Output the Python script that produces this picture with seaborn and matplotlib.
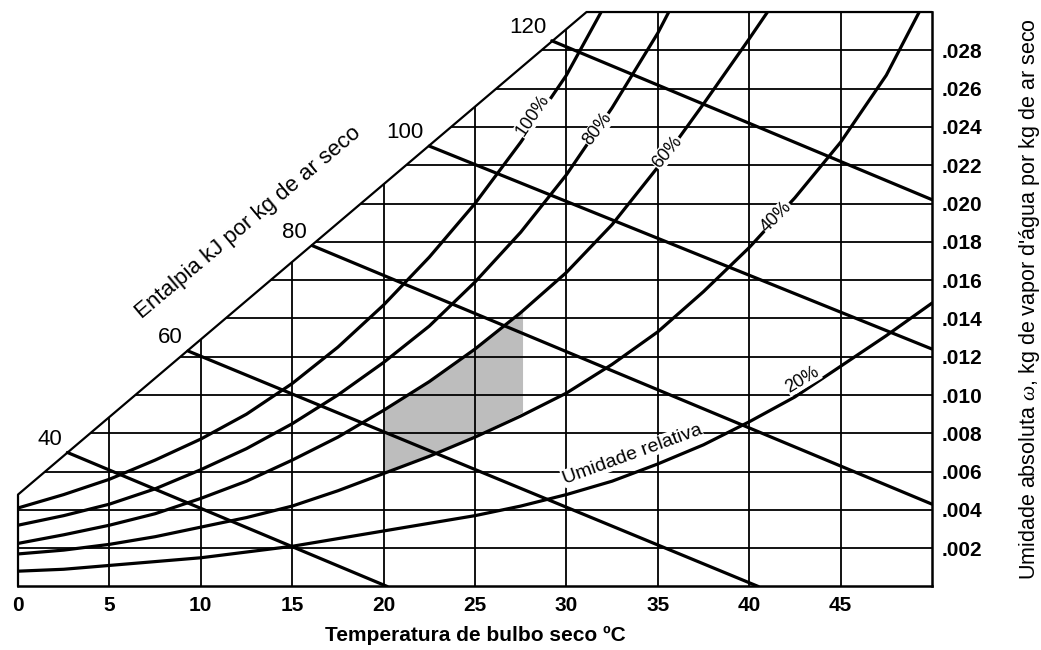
import numpy as np
import pandas as pd
import matplotlib
matplotlib.use("Agg")
import matplotlib.pyplot as plt
from matplotlib.patches import Polygon
import seaborn as sns

# --- dados lidos da carta psicrométrica ---
# grade
GRID_T = [5, 10, 15, 20, 25, 30, 35, 40, 45]
GRID_W = [0.002, 0.004, 0.006, 0.008, 0.010, 0.012, 0.014, 0.016,
          0.018, 0.020, 0.022, 0.024, 0.026, 0.028]
X_TICKS = [0, 5, 10, 15, 20, 25, 30, 35, 40, 45]
Y_TICK_LABELS = [".002", ".004", ".006", ".008", ".010", ".012", ".014",
                 ".016", ".018", ".020", ".022", ".024", ".026", ".028"]

# contorno (eixo de entalpia a esquerda)
BOUNDARY_T = [0, 0, 31.1, 50]
BOUNDARY_W = [0, 0.0048, 0.030, 0.030]

# curvas de umidade relativa
RH100_T = [0, 2.5, 5, 7.5, 10, 12.5, 15, 17.5, 20, 22.5, 25, 27.5, 30, 31.9]
RH100_W = [0.0041, 0.0048, 0.0056, 0.0066, 0.0077, 0.0090, 0.0106, 0.0125,
           0.0147, 0.0172, 0.0200, 0.0232, 0.0267, 0.0300]

RH80_T = [0, 2.5, 5, 7.5, 10, 12.5, 15, 17.5, 20, 22.5, 25, 27.5, 30, 32.5, 35, 35.6]
RH80_W = [0.0032, 0.0037, 0.0043, 0.0051, 0.0061, 0.0072, 0.0085, 0.0100,
          0.0117, 0.0136, 0.0159, 0.0185, 0.0215, 0.0250, 0.0289, 0.0300]

RH60_T = [0, 2.5, 5, 7.5, 10, 12.5, 15, 17.5, 20, 22.5, 25, 27.5, 30, 32.5,
          35, 37.5, 40, 41.0]
RH60_W = [0.00225, 0.0027, 0.0032, 0.0038, 0.0046, 0.0055, 0.0066, 0.0078,
          0.0092, 0.0107, 0.0124, 0.0143, 0.0164, 0.0189, 0.0219, 0.0252,
          0.0286, 0.0300]

RH40_T = [0, 2.5, 5, 7.5, 10, 12.5, 15, 17.5, 20, 22.5, 25, 27.5, 30, 32.5,
          35, 37.5, 40, 42.5, 45, 47.5, 49.3]
RH40_W = [0.0017, 0.0019, 0.0022, 0.0026, 0.0031, 0.0036, 0.0042, 0.0050,
          0.0059, 0.0068, 0.0078, 0.0089, 0.0101, 0.0116, 0.0133, 0.0154,
          0.0177, 0.0203, 0.0232, 0.0267, 0.0300]

RH20_T = [0, 2.5, 5, 7.5, 10, 12.5, 15, 17.5, 20, 22.5, 25, 27.5, 30, 32.5,
          35, 37.5, 40, 42.5, 45, 47.5, 50]
RH20_W = [0.0008, 0.0009, 0.0011, 0.0013, 0.0015, 0.0018, 0.0021, 0.0025,
          0.0029, 0.0033, 0.0037, 0.0042, 0.0048, 0.0055, 0.0064, 0.0074,
          0.0086, 0.0099, 0.0115, 0.0131, 0.0148]

RH_LABELS = ["100%", "80%", "60%", "40%", "20%"]
RH_LABEL_T = [28.15, 31.7, 35.5, 41.5, 42.9]
RH_LABEL_W = [0.0246, 0.0239, 0.0227, 0.0193, 0.0108]

# linhas de entalpia (kJ/kg)
H_VALUES = [40, 60, 80, 100, 120]
H_START_T = [2.7, 9.3, 16.1, 22.5, 29.2]
H_START_W = [0.0070, 0.0123, 0.0178, 0.0230, 0.0285]
H_END_T = [20.2, 40.5, 50, 50, 50]
H_END_W = [0.0, 0.0, 0.0043, 0.0124, 0.0202]

# zona de conforto sombreada
ZONE_T = [20, 22.5, 25, 27.6]
ZONE_LOW = [0.0060, 0.0069, 0.0079, 0.0091]
ZONE_HIGH = [0.0093, 0.0107, 0.0124, 0.0144]

sns.set_style("white")
plt.rcParams["font.family"] = ["Liberation Sans", "DejaVu Sans"]
plt.rcParams["text.color"] = "black"
plt.rcParams["xtick.color"] = "black"
plt.rcParams["ytick.color"] = "black"
plt.rcParams["axes.labelcolor"] = "black"
plt.rcParams["mathtext.fontset"] = "custom"
plt.rcParams["mathtext.it"] = "Liberation Serif:italic"

fig, ax = plt.subplots(figsize=(10.41, 6.5), dpi=100)
fig.subplots_adjust(left=0.0173, right=0.8953, bottom=0.0977, top=0.9815)
ax.set_xlim(0, 50)
ax.set_ylim(0, 0.030)

clip = Polygon(np.column_stack([BOUNDARY_T + [50], BOUNDARY_W + [0]]),
               closed=True, transform=ax.transData, fc="none", ec="none")
ax.add_patch(clip)

# zona sombreada
ax.fill_between(ZONE_T, ZONE_LOW, ZONE_HIGH, color="#bdbdbd", lw=0, zorder=0.5)

# grade recortada pelo contorno
vl = ax.vlines(GRID_T, 0, 0.030, colors="black", lw=1.3, zorder=1)
vl.set_clip_path(clip)
hl = ax.hlines(GRID_W, 0, 50, colors="black", lw=1.3, zorder=1)
hl.set_clip_path(clip)

# curvas de umidade relativa
curves = [(RH100_T, RH100_W), (RH80_T, RH80_W), (RH60_T, RH60_W),
          (RH40_T, RH40_W), (RH20_T, RH20_W)]
for t, w in curves:
    sns.lineplot(x=t, y=w, ax=ax, color="black", lw=2.3, sort=False,
                 estimator=None, legend=False, zorder=2)

# linhas de entalpia
for h, t0, w0, t1, w1 in zip(H_VALUES, H_START_T, H_START_W, H_END_T, H_END_W):
    sns.lineplot(x=[t0, t1], y=[w0, w1], ax=ax, color="black", lw=2.3,
                 sort=False, estimator=None, legend=False, zorder=2)
    ax.annotate(str(h), xy=(t0, w0), xytext=(-4, 2), textcoords="offset points",
                ha="right", va="bottom", fontsize=16)

# contorno
ax.plot(BOUNDARY_T, BOUNDARY_W, color="black", lw=1.6, clip_on=False, zorder=3)

# rotulos das curvas
rot = [56, 53, 50, 45, 31]
for lab, t, w, r in zip(RH_LABELS, RH_LABEL_T, RH_LABEL_W, rot):
    ax.text(t, w, lab, rotation=r, ha="center", va="center", fontsize=13,
            rotation_mode="anchor", zorder=4,
            bbox=dict(fc="white", ec="none", pad=0.4))

ax.text(33.6, 0.0069, "Umidade relativa", rotation=20, ha="center", va="center",
        rotation_mode="anchor", fontsize=14, zorder=4,
        bbox=dict(fc="white", ec="none", pad=0.4))
ax.text(12.6, 0.0190, "Entalpia kJ por kg de ar seco", rotation=40,
        ha="center", va="center", rotation_mode="anchor", fontsize=16)

# eixos
for s in ["top", "left"]:
    ax.spines[s].set_visible(False)
for s in ["right", "bottom"]:
    ax.spines[s].set_linewidth(1.8)
    ax.spines[s].set_color("black")

ax.set_xticks(X_TICKS)
ax.set_xticklabels([str(x) for x in X_TICKS], fontweight="bold")
ax.yaxis.tick_right()
ax.set_yticks(GRID_W)
ax.set_yticklabels(Y_TICK_LABELS, fontweight="bold")
ax.tick_params(axis="both", length=0, labelsize=15)
ax.tick_params(axis="x", pad=7)
ax.tick_params(axis="y", pad=7)
ax.set_xlabel("Temperatura de bulbo seco ºC", fontsize=15, fontweight="bold",
              labelpad=8)
ax.yaxis.set_label_position("right")
ax.set_ylabel("Umidade absoluta $\\omega$, kg de vapor d'água por kg de ar seco",
              fontsize=15.5)
ax.yaxis.set_label_coords(1.093, 0.5)

fig.savefig("out.png", dpi=100)
